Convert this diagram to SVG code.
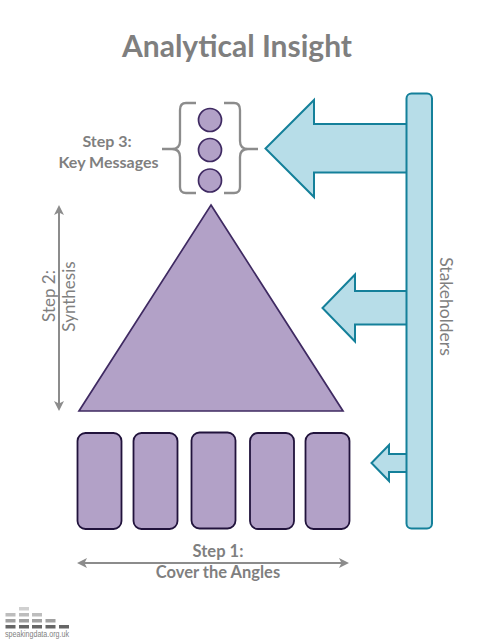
<svg xmlns="http://www.w3.org/2000/svg" width="480" height="640" viewBox="0 0 480 640">
<style>
text{font-family:"Lato","Open Sans","Liberation Sans",sans-serif;fill:#7f7f7f}
.lab{font-size:16px;font-weight:700;text-anchor:middle}
.v{font-size:17px;text-anchor:middle}
.p{fill:#b2a1c7;stroke:#3f2a62;stroke-width:1.7}
.r{fill:#b2a1c7;stroke:#21133c;stroke-width:1.8}
.b{fill:#b7dde8;stroke:#14809a;stroke-width:2;stroke-linejoin:miter}
.g{fill:none;stroke:#8c8c8c;stroke-width:2}
.ga{fill:#8c8c8c;stroke:none}
.br{fill:none;stroke:#8c8c8c;stroke-width:2.300}
</style>
<rect width="480" height="640" fill="#fff"/>
<text id="title" x="237" y="57" font-size="30" font-weight="700" text-anchor="middle">Analytical Insight</text>
<g id="connectors">
<path class="g" d="M59 210V406"/>
<path class="ga" d="M59 205l5 10-5-2.500-5 2.500zM59 411l5-10-5 2.500-5-2.500z"/>
<path class="g" d="M82 563H344"/>
<path class="ga" d="M77 563l10-5-2.500 5 2.500 5zM349 563l-10-5 2.500 5-2.500 5z"/>
</g>
<g id="arrow-large"><path class="b" d="M406 124H314V100L265.500 148.500L314 197V172.500H406"/></g>
<g id="arrow-medium"><path class="b" d="M406 291H355V274.500L322.500 308L355 341.500V324.500H406"/></g>
<g id="arrow-small"><path class="b" d="M406 454H389V445L371.500 463L389 481V472H406"/></g>
<g id="stakeholders"><rect class="b" x="406.500" y="93.500" width="25.500" height="435" rx="5"/>
<text class="v" transform="translate(440,306.500) rotate(90)" style="font-size:17.500px">Stakeholders</text></g>
<g id="key-messages">
<path class="br" d="M196 103H186Q180 103 180 110V141Q180 149 172 149H162M172 149Q180 149 180 157V187Q180 193 186 193H196"/>
<path class="br" d="M224 103H234Q240 103 240 110V141Q240 149 248 149H258M248 149Q240 149 240 157V187Q240 193 234 193H224"/>
<circle class="p" cx="210" cy="120" r="11.500"/>
<circle class="p" cx="210" cy="150" r="11.500"/>
<circle class="p" cx="210" cy="180.500" r="11.500"/>
</g>
<g id="step3-label"><text class="lab" x="107" y="147">Step 3:</text><text class="lab" x="108.500" y="168">Key Messages</text></g>
<g id="synthesis"><path class="p" d="M211 205L343 411H79Z"/></g>
<g id="step2-label"><text class="v" transform="translate(55,296) rotate(-90)">Step 2:</text><text class="v" transform="translate(75,296.500) rotate(-90)">Synthesis</text></g>
<g id="angle-1"><rect class="r" x="77.500" y="433" width="44" height="96" rx="8"/></g>
<g id="angle-2"><rect class="r" x="133.500" y="433" width="44" height="96" rx="8"/></g>
<g id="angle-3"><rect class="r" x="191.500" y="432.500" width="44" height="96" rx="8"/></g>
<g id="angle-4"><rect class="r" x="250" y="433" width="44" height="96" rx="8"/></g>
<g id="angle-5"><rect class="r" x="305.500" y="433" width="44" height="96" rx="8"/></g>
<g id="step1-label" style="font-size:16.500px"><text class="lab" x="218" y="557" style="font-size:16.500px">Step 1:</text><text class="lab" x="218" y="578" style="font-size:16.500px">Cover the Angles</text></g>
<g id="logo">
<rect x="19" y="607" width="10" height="3.500" fill="#d0d0d0"/>
<rect x="5.500" y="613" width="10" height="3.500" fill="#bdbdbd"/><rect x="19" y="613" width="10" height="3.500" fill="#bdbdbd"/><rect x="32" y="613" width="10" height="3.500" fill="#bdbdbd"/>
<rect x="5.500" y="619" width="10" height="3.500" fill="#a0a0a0"/><rect x="19" y="619" width="10" height="3.500" fill="#a0a0a0"/><rect x="32" y="619" width="10" height="3.500" fill="#a0a0a0"/><rect x="45.500" y="619" width="10" height="3.500" fill="#a0a0a0"/>
<rect x="5.500" y="625" width="10" height="3.500" fill="#666"/><rect x="19" y="625" width="10" height="3.500" fill="#666"/><rect x="32" y="625" width="10" height="3.500" fill="#666"/><rect x="45.500" y="625" width="10" height="3.500" fill="#666"/><rect x="59" y="625" width="10" height="3.500" fill="#666"/>
<text x="5" y="637" font-size="9" textLength="64" lengthAdjust="spacingAndGlyphs" style="font-family:'Liberation Sans',sans-serif">speakingdata.org.uk</text>
</g>
</svg>
